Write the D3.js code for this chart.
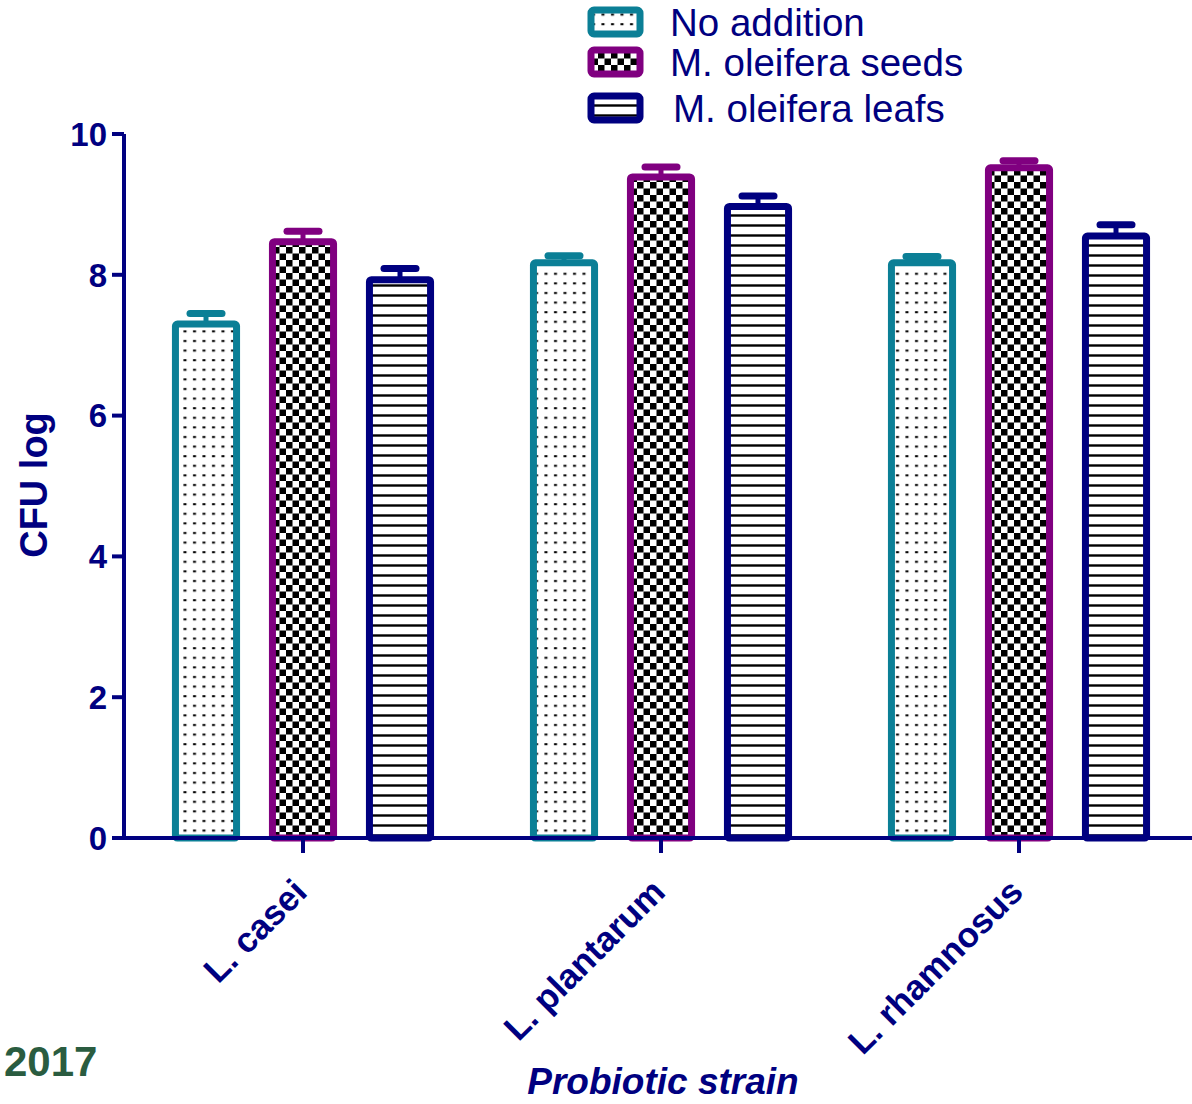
<!DOCTYPE html>
<html>
  <head>
    <script type="text/javascript" src="https://d3js.org/d3.v7.min.js"></script>
    <style>
      body { margin:0; background:#fff; }
      text { font-family: "Liberation Sans", Arial, sans-serif; }
    </style>
  </head>
  <body>
  </body>
  <script>

var strains = ['L. casei', 'L. plantarum', 'L. rhamnosus'];
var treatments = ['No addition', 'M. oleifera seeds', 'M. oleifera leafs'];
var noAddition = [7.30, 8.17, 8.17];
var seeds      = [8.47, 9.39, 9.52];
var leafs      = [7.93, 8.97, 8.55];
var errNo      = [0.15, 0.10, 0.09];
var errSeeds   = [0.15, 0.14, 0.10];
var errLeafs   = [0.16, 0.15, 0.16];
var yTicks = [0, 2, 4, 6, 8, 10];

var colors = ['#0b7f96', '#800080', '#000080'];
var navy = '#000080';

window.onload = function(){
  var W = 1192, H = 1104;
  var svg = d3.select('body').append('svg').attr('width', W).attr('height', H);

  var defs = svg.append('defs');
  // dots
  var p0 = defs.append('pattern').attr('id','pat0').attr('patternUnits','userSpaceOnUse')
    .attr('width', 9.5).attr('height', 9.6);
  p0.append('rect').attr('width',9.5).attr('height',9.6).attr('fill','#fff');
  p0.append('rect').attr('x',3).attr('y',4).attr('width',3).attr('height',2).attr('fill','#000');
  // checker
  var p1 = defs.append('pattern').attr('id','pat1').attr('patternUnits','userSpaceOnUse')
    .attr('width', 13).attr('height', 13);
  p1.append('rect').attr('width',13).attr('height',13).attr('fill','#fff');
  p1.append('rect').attr('width',6.5).attr('height',6.5).attr('fill','#000');
  p1.append('rect').attr('x',6.5).attr('y',6.5).attr('width',6.5).attr('height',6.5).attr('fill','#000');
  // horizontal lines
  var p2 = defs.append('pattern').attr('id','pat2').attr('patternUnits','userSpaceOnUse')
    .attr('width', 10).attr('height', 10);
  p2.append('rect').attr('width',10).attr('height',10).attr('fill','#fff');
  p2.append('rect').attr('y',4).attr('width',10).attr('height',3).attr('fill','#999');
  p2.append('rect').attr('y',4.5).attr('width',10).attr('height',2).attr('fill','#000');

  var y = d3.scaleLinear().domain([0, 10]).range([838, 134]);
  var x0 = d3.scaleBand().domain(strains).range([124, 1198]);
  var x1 = d3.scaleBand().domain(treatments).range([-145.5, 145.5])
    .paddingInner(0.37).paddingOuter(0.185);

  var series = [noAddition, seeds, leafs];
  var errs = [errNo, errSeeds, errLeafs];
  var rows = [];
  strains.forEach(function(s, i){
    treatments.forEach(function(t, j){
      rows.push({s:s, t:t, j:j, v:series[j][i], e:errs[j][i]});
    });
  });

  var g = svg.append('g');
  rows.forEach(function(d){
    var cx = x0(d.s) + x0.bandwidth()/2 + x1(d.t) + x1.bandwidth()/2;
    var bw = x1.bandwidth();
    // error bar
    g.append('line').attr('x1', cx).attr('x2', cx).attr('y1', y(d.v)).attr('y2', y(d.v + d.e))
      .attr('stroke', colors[d.j]).attr('stroke-width', 5);
    g.append('line').attr('x1', cx - 16).attr('x2', cx + 16).attr('y1', y(d.v + d.e)).attr('y2', y(d.v + d.e))
      .attr('stroke', colors[d.j]).attr('stroke-width', 7).attr('stroke-linecap','round');
    g.append('rect').attr('x', cx - bw/2).attr('y', y(d.v)).attr('width', bw).attr('height', y(0) - y(d.v))
      .attr('fill', 'url(#pat' + d.j + ')').attr('stroke', colors[d.j]).attr('stroke-width', 7)
      .attr('rx', 2);
  });

  // axes
  var ax = svg.append('g');
  ax.append('line').attr('x1', 124).attr('x2', 124).attr('y1', y(10)).attr('y2', 840)
    .attr('stroke', navy).attr('stroke-width', 4);
  ax.append('line').attr('x1', 112).attr('x2', W).attr('y1', 838).attr('y2', 838)
    .attr('stroke', navy).attr('stroke-width', 4);
  yTicks.forEach(function(t){
    ax.append('line').attr('x1', 112).attr('x2', 124).attr('y1', y(t)).attr('y2', y(t))
      .attr('stroke', navy).attr('stroke-width', 4);
    ax.append('text').attr('x', 107).attr('y', y(t)).attr('dy', '0.36em').attr('text-anchor','end')
      .attr('font-size', 33).attr('font-weight','bold').attr('fill', navy).text(t);
  });
  strains.forEach(function(s){
    var cx = x0(s) + x0.bandwidth()/2;
    ax.append('line').attr('x1', cx).attr('x2', cx).attr('y1', 838).attr('y2', 853)
      .attr('stroke', navy).attr('stroke-width', 4);
    ax.append('text').attr('transform', 'translate(' + (cx + 6) + ',' + 894 + ') rotate(-45)')
      .attr('text-anchor','end')
      .attr('font-size', 35).attr('font-weight','bold').attr('fill', navy).text(s);
  });

  svg.append('text').attr('transform','translate(47,485) rotate(-90)').attr('text-anchor','middle')
    .attr('font-size', 38).attr('font-weight','bold').attr('fill', navy).text('CFU log');
  svg.append('text').attr('x', 663).attr('y', 1094).attr('text-anchor','middle')
    .attr('font-size', 37).attr('font-weight','bold').attr('font-style','italic').attr('fill', navy)
    .text('Probiotic strain');
  svg.append('text').attr('x', 4).attr('y', 1076)
    .attr('font-size', 42).attr('font-weight','bold').attr('fill', '#2a5c40').text('2017');

  // legend
  var lg = svg.append('g');
  var ly = [22, 62, 108];
  treatments.forEach(function(t, j){
    lg.append('rect').attr('x', 591).attr('y', ly[j] - 12).attr('width', 49).attr('height', 24)
      .attr('rx', 3).attr('fill', 'url(#pat' + j + ')').attr('stroke', colors[j]).attr('stroke-width', 7);
    lg.append('text').attr('x', 670 + (j == 2 ? 3 : 0)).attr('y', ly[j]).attr('dy', '0.36em')
      .attr('font-size', 38.5).attr('fill', navy).text(t);
  });
};

  </script>
</html>
